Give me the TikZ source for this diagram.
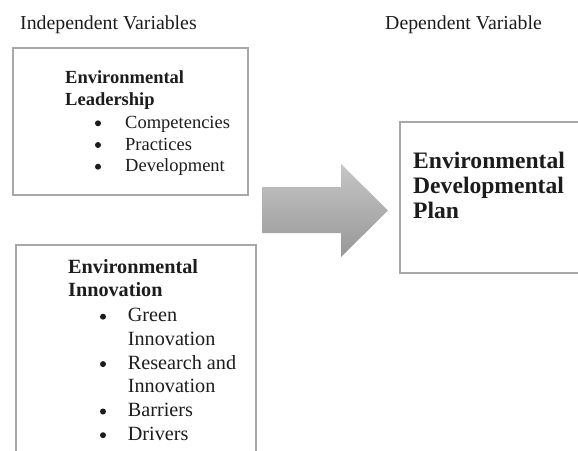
\documentclass[tikz,border=0pt]{standalone}
\usepackage{fontspec}
\setmainfont{Liberation Serif}
\definecolor{boxgray}{HTML}{A8A8A8}
\definecolor{ink}{HTML}{1C1C1C}
\definecolor{arrowtop}{HTML}{C6C6C6}
\definecolor{arrowbot}{HTML}{979797}

\begin{document}
\begin{tikzpicture}[x=1pt,y=-1pt,
    varbox/.style={draw=boxgray,line width=1.4pt,anchor=north west,outer sep=0pt,inner sep=0pt},
    txt/.style={anchor=base west,inner sep=0pt,text=ink},
    dot/.style={circle,fill=ink,inner sep=0pt,minimum size=6pt}]
  \useasboundingbox (0,0) rectangle (578,450);
  \clip (0,0) rectangle (578,450);

  % column titles
  \node[txt,font=\fontsize{19.8}{24}\selectfont] (indep) at (20,29) {Independent Variables};
  \node[txt,font=\fontsize{19.8}{24}\selectfont] (dep) at (385,29) {Dependent Variable};

  % first independent variable
  \node[varbox,minimum width=235pt,minimum height=147pt] (lead) at (13,48) {};
  \node[txt,font=\bfseries\fontsize{18.5}{22}\selectfont] (lead-h1) at (65,83.3) {Environmental};
  \node[txt,font=\bfseries\fontsize{18.5}{22}\selectfont] (lead-h2) at (65,105) {Leadership};
  \foreach \item [count=\i] in {Competencies,Practices,Development} {
    \node[dot] (lead-b\i) at (98,101.6+21.7*\i) {};
    \node[txt,font=\fontsize{18.5}{22}\selectfont] (lead-\i) at (125,106.6+21.7*\i) {\item};
  }

  % second independent variable
  \node[varbox,minimum width=240pt,minimum height=230pt] (inno) at (16,245) {};
  \node[txt,font=\bfseries\fontsize{20.2}{24}\selectfont] (inno-h1) at (68,273.3) {Environmental};
  \node[txt,font=\bfseries\fontsize{20.2}{24}\selectfont] (inno-h2) at (68,296.8) {Innovation};
  \foreach \item/\b [count=\i] in {Green/1,Innovation/0,Research and/1,Innovation/0,Barriers/1,Drivers/1} {
    \ifnum\b=1
      \node[dot] (inno-b\i) at (103,293+23.7*\i) {};
    \fi
    \node[txt,font=\fontsize{20.2}{24}\selectfont] (inno-\i) at (127.7,298+23.7*\i) {\item};
  }

  % dependent variable
  \node[varbox,minimum width=250pt,minimum height=151pt] (plan) at (400,122) {};
  \node[txt,font=\bfseries\fontsize{23.6}{26}\selectfont] (plan-1) at (413,168) {Environmental};
  \node[txt,font=\bfseries\fontsize{23.6}{26}\selectfont] (plan-2) at (413,193) {Developmental};
  \node[txt,font=\bfseries\fontsize{23.6}{26}\selectfont] (plan-3) at (413,218.5) {Plan};

  % block arrow
  \shade[top color=arrowtop,bottom color=arrowbot]
    (262,187) -- (341,187) -- (341,164) -- (388,210.5) -- (341,257) -- (341,233) -- (262,233) -- cycle;
\end{tikzpicture}
\end{document}
